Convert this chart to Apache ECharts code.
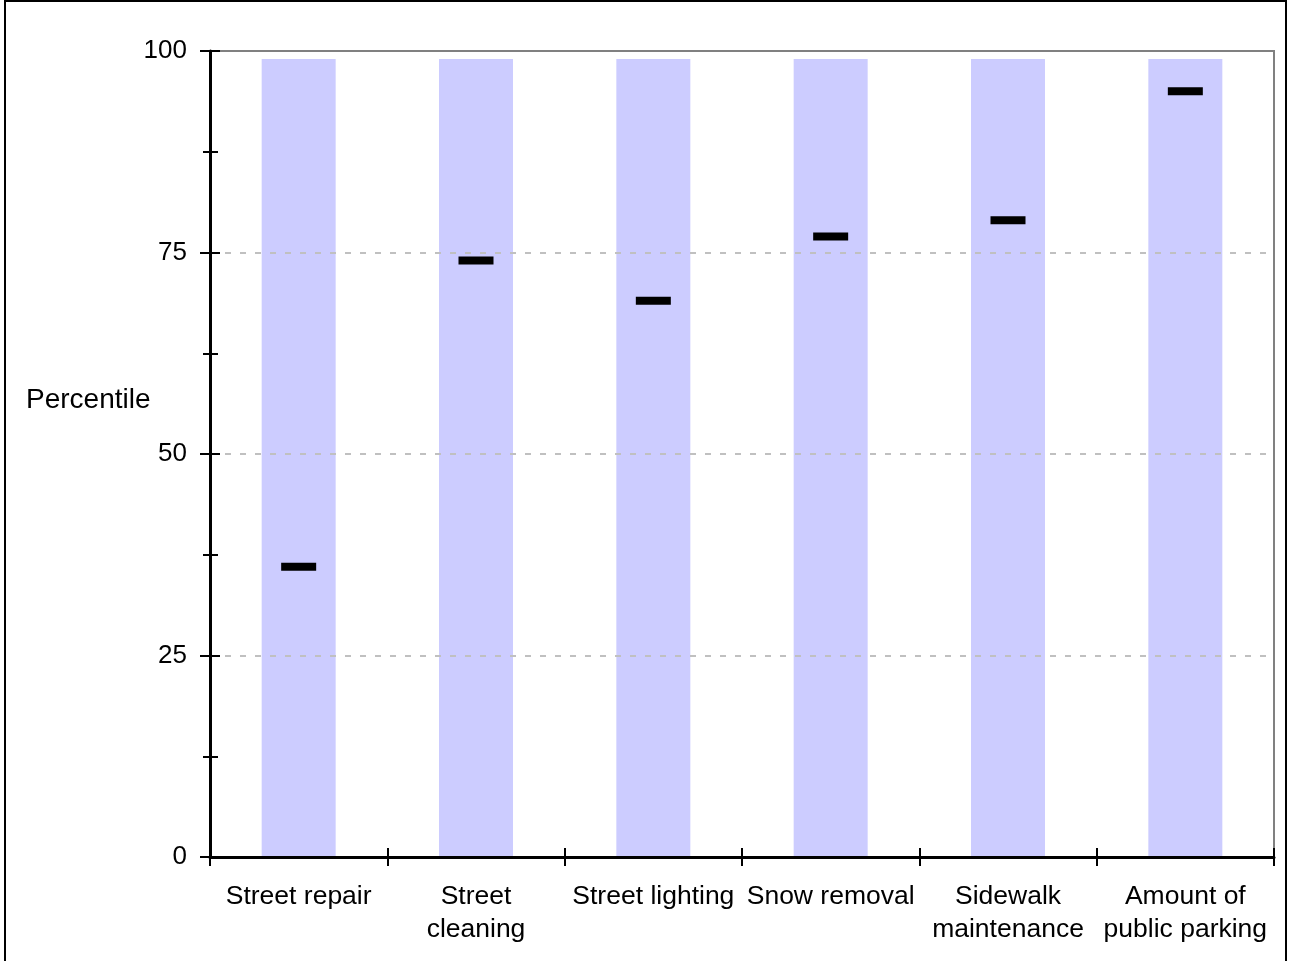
<!DOCTYPE html>
<html>
<head>
<meta charset="utf-8">
<script src="https://cdn.jsdelivr.net/npm/echarts@6/dist/echarts.min.js"></script>
<style>
html,body{margin:0;padding:0;background:#fff;}
#chart{width:1292px;height:961px;}
</style>
</head>
<body>
<div id="chart"></div>
<script>
const categories = ['Street repair', 'Street\ncleaning', 'Street lighting', 'Snow removal', 'Sidewalk\nmaintenance', 'Amount of\npublic parking'];
const rangeTop = [99, 99, 99, 99, 99, 99];
const percentile = [36, 74, 69, 77, 79, 95];
const yAxisTitle = 'Percentile';

const FONT = 'Liberation Sans, Arial, sans-serif';
const chart = echarts.init(document.getElementById('chart'));
const yCommon = {
  type: 'value', min: 0, max: 100, interval: 25, position: 'left'
};
chart.setOption({
  animation: false,
  backgroundColor: '#fff',
  textStyle: { fontFamily: FONT },
  title: {
    text: yAxisTitle, left: 21, top: 381,
    textStyle: { fontFamily: FONT, fontSize: 28, fontWeight: 'normal', color: '#000' }
  },
  graphic: [{
    type: 'rect', silent: true, z: 100,
    shape: { x: 5, y: 1, width: 1281, height: 980 },
    style: { fill: 'none', stroke: '#000', lineWidth: 2 }
  }],
  grid: {
    left: 210, right: 18, top: 51, bottom: 104,
    show: true, borderColor: '#808080', borderWidth: 2, backgroundColor: 'transparent'
  },
  xAxis: [{
    type: 'category', data: categories, position: 'bottom',
    axisLine: { lineStyle: { color: '#000', width: 3 } },
    axisTick: { show: true, inside: false, length: 9, alignWithLabel: false, lineStyle: { color: '#000', width: 2 } },
    axisLabel: { fontFamily: FONT, fontSize: 26.5, color: '#000', margin: 23, lineHeight: 33, interval: 0 },
    splitLine: { show: false }, z: 5
  }, {
    type: 'category', data: categories, position: 'bottom',
    axisLine: { show: false },
    axisTick: { show: true, inside: true, length: 9, lineStyle: { color: '#000', width: 2 } },
    axisLabel: { show: false }, splitLine: { show: false }, z: 5
  }],
  yAxis: [Object.assign({}, yCommon, {
    axisLine: { show: true, lineStyle: { color: '#000', width: 3 } },
    axisTick: { show: true, inside: false, length: 10, lineStyle: { color: '#000', width: 2 } },
    minorTick: { show: true, splitNumber: 2, length: 7, lineStyle: { color: '#000', width: 2 } },
    axisLabel: { fontFamily: FONT, fontSize: 26, color: '#000', margin: 23 },
    splitLine: {
      show: true, showMinLine: false, showMaxLine: false,
      lineStyle: { color: '#c0c0c0', width: 2, type: [6, 9] }
    },
    z: 5
  }), Object.assign({}, yCommon, {
    axisLine: { show: false },
    axisTick: { show: true, inside: true, length: 10, lineStyle: { color: '#000', width: 2 } },
    minorTick: { show: true, splitNumber: 2, length: 8, lineStyle: { color: '#000', width: 2 } },
    axisLabel: { show: false },
    splitLine: { show: false },
    z: 5
  })],
  series: [{
    type: 'bar', data: rangeTop, xAxisIndex: 0, yAxisIndex: 0,
    barWidth: 74, itemStyle: { color: '#ccccff' }, z: 2, silent: true
  }, {
    type: 'scatter', data: percentile, xAxisIndex: 0, yAxisIndex: 0,
    symbol: 'rect', symbolSize: [35, 8], itemStyle: { color: '#000', opacity: 1 }, z: 3, silent: true
  }]
});
</script>
</body>
</html>
